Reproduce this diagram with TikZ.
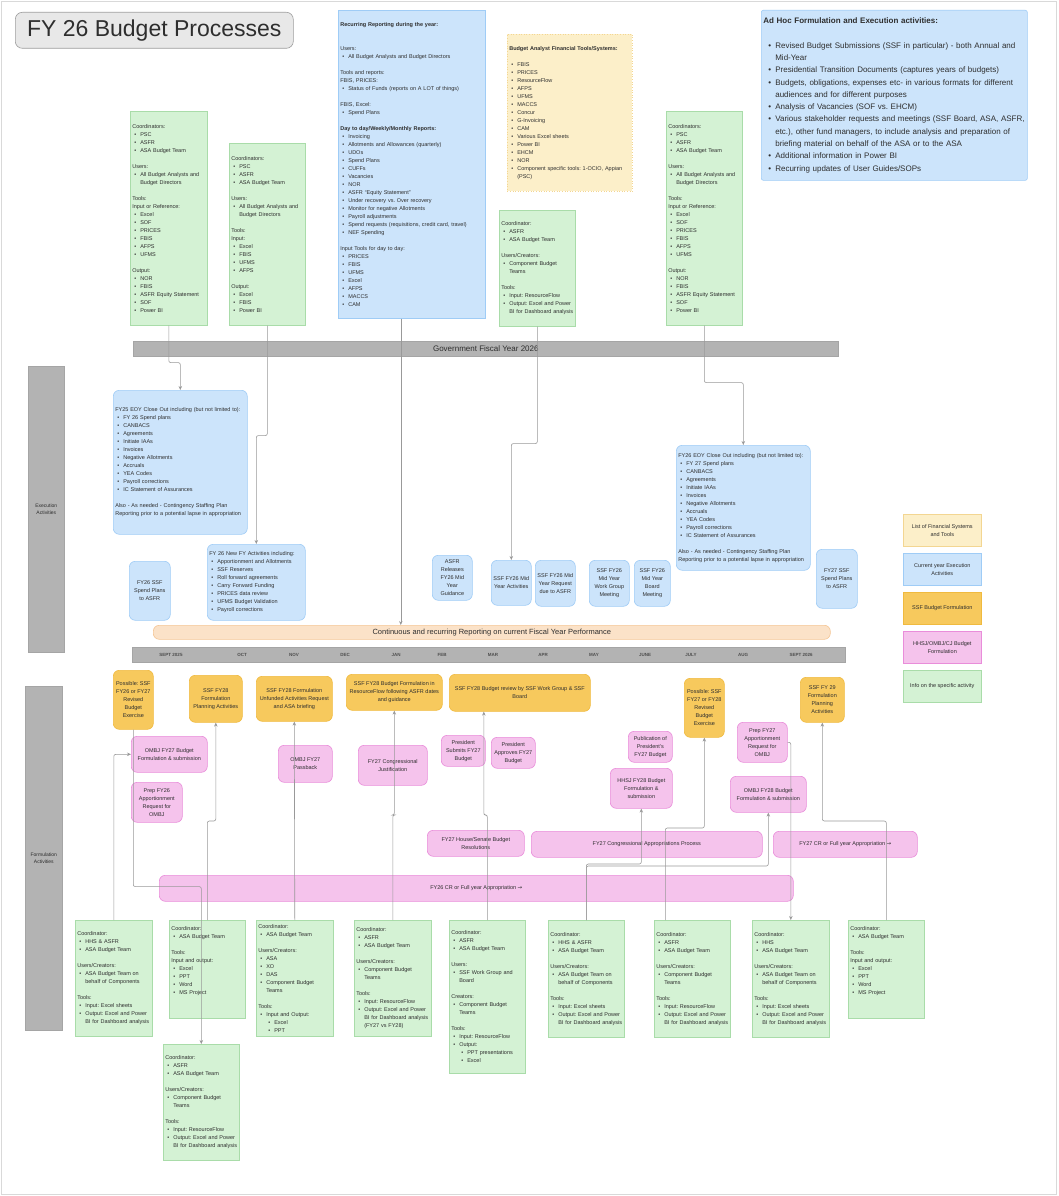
\documentclass[tikz,border=0pt]{standalone}
\usepackage{fontspec}
\setmainfont{Liberation Sans}
\newfontfamily\arrowfont{DejaVu Sans}
\usepackage{xcolor}
\usepackage{tikz}
\usetikzlibrary{
  arrows.meta,
  positioning,
  calc
}
\definecolor{bpInfo}{HTML}{D4F2D4}
\definecolor{bpInfoLine}{HTML}{A9DCA9}
\definecolor{bpExec}{HTML}{CCE4FB}
\definecolor{bpExecLine}{HTML}{9FCCF6}
\definecolor{bpSys}{HTML}{FCEFC9}
\definecolor{bpSysLine}{HTML}{F3D692}
\definecolor{bpSSF}{HTML}{F7C95D}
\definecolor{bpSSFLine}{HTML}{F0BA3F}
\definecolor{bpHHS}{HTML}{F5C3EC}
\definecolor{bpHHSLine}{HTML}{E98DDA}
\definecolor{bpPeach}{HTML}{FBE2C8}
\definecolor{bpPeachLine}{HTML}{F5C695}
\definecolor{bpBand}{HTML}{B3B3B3}
\definecolor{bpBandLine}{HTML}{A5A5A5}
\definecolor{bpTitle}{HTML}{E8E8E8}
\definecolor{bpTitleLine}{HTML}{9E9E9E}
\definecolor{bpLink}{HTML}{999999}
\definecolor{bpText}{HTML}{2E2E2E}

\newcommand{\bitem}{\par\hangindent=8pt\hangafter=1\noindent\makebox[8pt][l]{\hspace{2pt}\textbullet}}
\newcommand{\bsubitem}{\par\hangindent=16pt\hangafter=1\noindent\makebox[16pt][l]{\hspace{10pt}\textbullet}}
\newcommand{\witem}{\par\hangindent=12pt\hangafter=1\noindent\makebox[12pt][l]{\hspace{5pt}\textbullet}}
\newcommand{\gapline}{\par\vspace{8pt}}
\newcommand{\widegap}{\par\vspace{12.3pt}}
\newcommand{\coordtext}{Coordinators:\bitem PSC\bitem ASFR\bitem ASA Budget Team\gapline Users:\bitem All Budget Analysts and\newline Budget Directors\gapline Tools:\par Input or Reference:\bitem Excel\bitem SOF\bitem PRICES\bitem FBIS\bitem AFPS\bitem UFMS\gapline Output:\bitem NOR\bitem FBIS\bitem ASFR Equity Statement\bitem SOF\bitem Power BI\par}
\newcommand{\eoytext}[2]{FY#1 EOY Close Out including (but not limited to):\bitem FY #2 Spend plans\bitem CANBACS\bitem Agreements\bitem Initiate IAAs\bitem Invoices\bitem Negative Allotments\bitem Accruals\bitem YEA Codes\bitem Payroll corrections\bitem IC Statement of Assurances\gapline Also - As needed - Contingency Staffing Plan\newline Reporting prior to a potential lapse in appropriation\par}

\tikzset{
  bpnode/.style={
    draw, anchor=north west, inner xsep=2pt, inner ysep=2pt, line width=0.6pt,
    font=\fontsize{5.5}{8}\selectfont, text=bpText, align=center
  },
  titlebox/.style={bpnode, fill=bpTitle, draw=bpTitleLine, rounded corners=7pt, font=\fontsize{23}{26}\selectfont},
  info/.style={bpnode, fill=bpInfo, draw=bpInfoLine, align=left},
  exec/.style={bpnode, fill=bpExec, draw=bpExecLine, rounded corners=6pt},
  systems/.style={bpnode, fill=bpSys, draw=bpSysLine, dotted, align=left},
  ssf/.style={bpnode, fill=bpSSF, draw=bpSSFLine, rounded corners=6pt},
  hhsj/.style={bpnode, fill=bpHHS, draw=bpHHSLine, rounded corners=6pt},
  reporting/.style={bpnode, fill=bpPeach, draw=bpPeachLine, rounded corners=6pt, font=\fontsize{7.5}{9}\selectfont},
  band/.style={bpnode, fill=bpBand, draw=bpBandLine},
  month/.style={font=\fontsize{4.5}{5}\selectfont\bfseries, text=bpText!85, inner sep=0pt},
  legendbox/.style={minimum width=78, minimum height=32},
  link/.style={draw=bpLink, line width=0.6pt, rounded corners=2pt},
  arrowlink/.style={link, -{Stealth[length=4pt, width=3.5pt]}}
}

\begin{document}
\frenchspacing
\begin{tikzpicture}[x=1pt, y=-1pt]
  \fill[white] (0,0) rectangle (1058,1196);
  \draw[black!15] (1.5,1.5) rectangle (1056.5,1194.5);
  \useasboundingbox (0,0) rectangle (1058,1196);

  \node[titlebox, minimum width=278, minimum height=36] (title) at (15,12) {FY 26 Budget Processes};

  \node[info, text width=73, minimum height=214] (g1) at (130,111) {\coordtext};
  \node[info, text width=72, minimum height=182] (g2) at (229,143) {Coordinators:\bitem PSC\bitem ASFR\bitem ASA Budget Team\gapline Users:\bitem All Budget Analysts and\newline Budget Directors\gapline Tools:\par Input:\bitem Excel\bitem FBIS\bitem UFMS\bitem AFPS\gapline Output:\bitem Excel\bitem FBIS\bitem Power BI\par};
  \node[exec, rounded corners=0pt, align=left, text width=143, minimum height=308] (rec) at (338,10) {\textbf{Recurring Reporting during the year:}\gapline\gapline Users:\bitem All Budget Analysts and Budget Directors\gapline Tools and reports:\par FBIS, PRICES:\bitem Status of Funds (reports on A LOT of things)\gapline FBIS, Excel:\bitem Spend Plans\gapline \textbf{Day to day/Weekly/Monthly Reports:}\bitem Invoicing\bitem Allotments and Allowances (quarterly)\bitem UDOs\bitem Spend Plans\bitem CUFFs\bitem Vacancies\bitem NOR\bitem ASFR ``Equity Statement''\bitem Under recovery vs. Over recovery\bitem Monitor for negative Allotments\bitem Payroll adjustments\bitem Spend requests (requisitions, credit card, travel)\bitem NEF Spending\gapline Input Tools for day to day:\bitem PRICES\bitem FBIS\bitem UFMS\bitem Excel\bitem AFPS\bitem MACCS\bitem CAM\par};
  \node[systems, text width=121, minimum height=157] (tools) at (507,34) {\textbf{Budget Analyst Financial Tools/Systems:}\gapline\bitem FBIS\bitem PRICES\bitem ResourceFlow\bitem AFPS\bitem UFMS\bitem MACCS\bitem Concur\bitem G-Invoicing\bitem CAM\bitem Various Excel sheets\bitem Power BI\bitem EHCM\bitem NOR\bitem Component specific tools:  1-OCIO, Appian\newline (PSC)\par};
  \node[info, text width=72, minimum height=116] (g3) at (499,210) {Coordinator:\bitem ASFR\bitem ASA Budget Team\gapline Users/Creators:\bitem Component Budget\newline Teams\gapline Tools:\bitem Input: ResourceFlow\bitem Output: Excel and Power\newline BI for Dashboard analysis\par};
  \node[exec, rounded corners=2pt, align=left, text width=262, minimum height=170, font=\fontsize{8}{12.3}\selectfont] (adhoc) at (761,10) {\textbf{Ad Hoc Formulation and Execution activities:}\widegap\witem Revised Budget Submissions (SSF in particular) - both Annual and\newline Mid-Year\witem Presidential Transition Documents (captures years of budgets)\witem Budgets, obligations, expenses etc- in various formats for different\newline audiences and for different purposes\witem Analysis of Vacancies (SOF vs. EHCM)\witem Various stakeholder requests and meetings (SSF Board, ASA, ASFR,\newline etc.), other fund managers, to include analysis and preparation of\newline briefing material on behalf of the ASA or to the ASA\witem Additional information in Power BI\witem Recurring updates of User Guides/SOPs\par};
  \node[info, text width=72, minimum height=214] (g4) at (666,111) {\coordtext};

  \node[band, minimum width=705, minimum height=15, font=\fontsize{8}{9}\selectfont] (fiscal) at (133,341) {Government Fiscal Year 2026};
  \node[band, minimum width=36, minimum height=286, font=\fontsize{5}{7}\selectfont] (exside) at (28,366) {Execution\\Activities};
  \node[band, minimum width=37, minimum height=344, font=\fontsize{5}{7}\selectfont] (fmside) at (25,686) {Formulation\\Activities};

  \node[exec, align=left, text width=130, minimum height=144] (b1) at (113,390) {\eoytext{25}{26}};
  \node[exec, minimum width=41, minimum height=59] (b2) at (129,561) {FY26 SSF\\Spend Plans\\to ASFR};
  \node[exec, align=left, text width=94, minimum height=76] (b3) at (207,544) {FY 26 New FY Activities including:\bitem Apportionment and Allotments\bitem SSF Reserves\bitem Roll forward agreements\bitem Carry Forward Funding\bitem PRICES data review\bitem UFMS Budget Validation\bitem Payroll corrections\par};
  \node[exec, minimum width=40, minimum height=45] (b4) at (432,555) {ASFR\\Releases\\FY26 Mid\\Year\\Guidance};
  \node[exec, minimum width=40, minimum height=45] (b5) at (491,560) {SSF FY26 Mid\\Year Activities};
  \node[exec, minimum width=40, minimum height=46] (b6) at (535,560) {SSF FY26 Mid\\Year Request\\due to ASFR};
  \node[exec, minimum width=40, minimum height=46] (b7) at (589,560) {SSF FY26\\Mid Year\\Work Group\\Meeting};
  \node[exec, minimum width=36, minimum height=46] (b8) at (634,560) {SSF FY26\\Mid Year\\Board\\Meeting};
  \node[exec, align=left, text width=130, minimum height=125] (b9) at (676,445) {\eoytext{26}{27}};
  \node[exec, minimum width=41, minimum height=59] (b10) at (816,549) {FY27 SSF\\Spend Plans\\to ASFR};

  \node[reporting, minimum width=677, minimum height=14] (cont) at (153,625) {Continuous and recurring Reporting on current Fiscal Year Performance};
  \node[band, minimum width=713, minimum height=15] (months) at (132,647) {};
  \node[month] (m1) at (171,654.5) {SEPT 2025};
  \node[month] (m2) at (242,654.5) {OCT};
  \node[month] (m3) at (294,654.5) {NOV};
  \node[month] (m4) at (345,654.5) {DEC};
  \node[month] (m5) at (396,654.5) {JAN};
  \node[month] (m6) at (442,654.5) {FEB};
  \node[month] (m7) at (493,654.5) {MAR};
  \node[month] (m8) at (543,654.5) {APR};
  \node[month] (m9) at (594,654.5) {MAY};
  \node[month] (m10) at (645,654.5) {JUNE};
  \node[month] (m11) at (691,654.5) {JULY};
  \node[month] (m12) at (743,654.5) {AUG};
  \node[month] (m13) at (801,654.5) {SEPT 2026};

  \node[ssf, minimum width=40, minimum height=59] (o1) at (113,670) {Possible: SSF\\FY26 or FY27\\Revised\\Budget\\Exercise};
  \node[ssf, minimum width=53, minimum height=47] (o2) at (189,675) {SSF FY28\\Formulation\\Planning Activities};
  \node[ssf, minimum width=76, minimum height=45] (o3) at (256,676) {SSF FY28  Formulation\\Unfunded Activities Request\\and ASA briefing};
  \node[ssf, minimum width=96, minimum height=36] (o4) at (346,674) {SSF FY28 Budget Formulation in\\ResourceFlow following ASFR dates\\and guidance};
  \node[ssf, minimum width=141, minimum height=37] (o5) at (449,674) {SSF FY28 Budget review by SSF Work Group \& SSF\\Board};
  \node[ssf, minimum width=40, minimum height=59] (o6) at (684,678) {Possible: SSF\\FY27 or FY28\\Revised\\Budget\\Exercise};
  \node[ssf, minimum width=44, minimum height=45] (o7) at (800,677) {SSF FY 29\\Formulation\\Planning\\Activities};

  \node[hhsj, minimum width=76, minimum height=36] (p1) at (131,736) {OMBJ FY27 Budget\\Formulation \& submission};
  \node[hhsj, minimum width=51, minimum height=40] (p2) at (131,782) {Prep FY26\\Apportionment\\Request for\\OMBJ};
  \node[hhsj, minimum width=54, minimum height=37] (p3) at (278,745) {OMBJ FY27\\Passback};
  \node[hhsj, minimum width=69, minimum height=40] (p4) at (358,745) {FY27 Congressional\\Justification};
  \node[hhsj, minimum width=44, minimum height=31] (p5) at (441,735) {President\\Submits FY27\\Budget};
  \node[hhsj, minimum width=44, minimum height=31] (p6) at (491,737) {President\\Approves FY27\\Budget};
  \node[hhsj, minimum width=44, minimum height=31] (p11) at (628,731) {Publication of\\President's\\FY27 Budget};
  \node[hhsj, minimum width=62, minimum height=40] (p12) at (610,768) {HHSJ FY28 Budget\\Formulation \&\\submission};
  \node[hhsj, minimum width=50, minimum height=40] (p13) at (737,722) {Prep FY27\\Apportionment\\Request for\\OMBJ};
  \node[hhsj, minimum width=76, minimum height=36] (p14) at (730,776) {OMBJ FY28 Budget\\Formulation \& submission};
  \node[hhsj, minimum width=97, minimum height=26] (p7) at (427,830) {FY27 House/Senate Budget\\Resolutions};
  \node[hhsj, minimum width=231, minimum height=26] (p8) at (531,831) {FY27 Congressional Appropriations Process};
  \node[hhsj, minimum width=144, minimum height=26] (p9) at (773,831) {FY27 CR or Full year Appropriation {\arrowfont →}};
  \node[hhsj, minimum width=634, minimum height=26] (p10) at (159,875) {FY26 CR or Full year Appropriation {\arrowfont →}};

  \node[info, text width=73, minimum height=116] (gb1) at (75,920) {Coordinator:\bitem HHS \& ASFR\bitem ASA Budget Team\gapline Users/Creators:\bitem ASA Budget Team on\newline behalf of Components\gapline Tools:\bitem Input: Excel sheets\bitem Output: Excel and Power\newline BI for Dashboard analysis\par};
  \node[info, text width=72, minimum height=98] (gb2) at (169,920) {Coordinator:\bitem ASA Budget Team\gapline Tools:\par Input and output:\bitem Excel\bitem PPT\bitem Word\bitem MS Project\par\rule{0pt}{16pt}\par};
  \node[info, text width=72, minimum height=116] (gb3) at (163,1044) {Coordinator:\bitem ASFR\bitem ASA Budget Team\gapline Users/Creators:\bitem Component Budget\newline Teams\gapline Tools:\bitem Input: ResourceFlow\bitem Output: Excel and Power\newline BI for Dashboard analysis\par};
  \node[info, text width=73, minimum height=116] (gb4) at (256,920) {Coordinator:\bitem ASA Budget Team\gapline Users/Creators:\bitem ASA\bitem XO\bitem DAS\bitem Component Budget\newline Teams\gapline Tools:\bitem Input and Output:\bsubitem Excel\bsubitem PPT\par};
  \node[info, text width=73, minimum height=116] (gb5) at (354,920) {Coordinator:\bitem ASFR\bitem ASA Budget Team\gapline Users/Creators:\bitem Component Budget\newline Teams\gapline Tools:\bitem Input: ResourceFlow\bitem Output: Excel and Power\newline BI for Dashboard analysis\newline (FY27 vs FY28)\par};
  \node[info, text width=72, minimum height=153] (gb6) at (449,920) {Coordinator:\bitem ASFR\bitem ASA Budget Team\gapline Users:\bitem SSF Work Group and\newline Board\gapline Creators:\bitem Component Budget\newline Teams\gapline Tools:\bitem Input: ResourceFlow\bitem Output:\bsubitem PPT presentations\bsubitem Excel\par};
  \node[info, text width=72, minimum height=117] (gb7) at (548,920) {Coordinator:\bitem HHS \& ASFR\bitem ASA Budget Team\gapline Users/Creators:\bitem ASA Budget Team on\newline behalf of Components\gapline Tools:\bitem Input: Excel sheets\bitem Output: Excel and Power\newline BI for Dashboard analysis\par};
  \node[info, text width=72, minimum height=117] (gb8) at (654,920) {Coordinator:\bitem ASFR\bitem ASA Budget Team\gapline Users/Creators:\bitem Component Budget\newline Teams\gapline Tools:\bitem Input: ResourceFlow\bitem Output: Excel and Power\newline BI for Dashboard analysis\par};
  \node[info, text width=73, minimum height=117] (gb9) at (752,920) {Coordinator:\bitem HHS\bitem ASA Budget Team\gapline Users/Creators:\bitem ASA Budget Team on\newline behalf of Components\gapline Tools:\bitem Input: Excel sheets\bitem Output: Excel and Power\newline BI for Dashboard analysis\par};
  \node[info, text width=72, minimum height=98] (gb10) at (848,920) {Coordinator:\bitem ASA Budget Team\gapline Tools:\par Input and output:\bitem Excel\bitem PPT\bitem Word\bitem MS Project\par\rule{0pt}{16pt}\par};

  \node[bpnode, legendbox, fill=bpSys, draw=bpSysLine] (lg1) at (903,514) {List of Financial Systems\\and Tools};
  \node[exec, rounded corners=0pt, legendbox] (lg2) at (903,553) {Current year Execution\\Activities};
  \node[ssf, rounded corners=0pt, legendbox] (lg3) at (903,592) {SSF Budget Formulation};
  \node[hhsj, rounded corners=0pt, legendbox] (lg4) at (903,631) {HHSJ/OMBJ/CJ Budget\\Formulation};
  \node[info, align=center, legendbox] (lg5) at (903,670) {Info on the specific activity};

  \draw[arrowlink] (g1.south) -- ++(0,37) -| (b1.north);
  \draw[arrowlink] (g2.south) -- ++(0,110) -| (b3.north);
  \draw[arrowlink] ([xshift=-11pt]rec.south) -- ([xshift=-11pt]rec.south |- cont.north);
  \draw[arrowlink] (g3.south) -- ++(0,117) -| (b5.north);
  \draw[arrowlink] (g4.south) -- ++(0,57) -| (b9.north);

  \draw[arrowlink] (o1.south) -- ++(0,157) -| (gb3.north);
  \draw[arrowlink] (gb1.north) |- (p1.west);
  \draw[arrowlink] (gb2.north) -- ++(0,-99) -| (o2.south);
  \draw[arrowlink] (gb4.north) -- (o3.south);
  \draw[arrowlink] (gb5.north) -- ++(0,-105) -| (o4.south);
  \draw[arrowlink] (gb6.north) -- ++(0,-105) -| ([xshift=-36pt]o5.south);
  \draw[arrowlink] (gb7.north) -- ++(0,-56) -| (p12.south);
  \draw[arrowlink] (gb7.north) -- ++(0,-54) -| (p14.south);
  \draw[arrowlink] ([xshift=-27pt]gb8.north) -- ++(0,-92) -| (o6.south);
  \draw[arrowlink] (p13.east) -| (gb9.north);
  \draw[arrowlink] (gb10.north) -- ++(0,-99) -| (o7.south);
\end{tikzpicture}
\end{document}
